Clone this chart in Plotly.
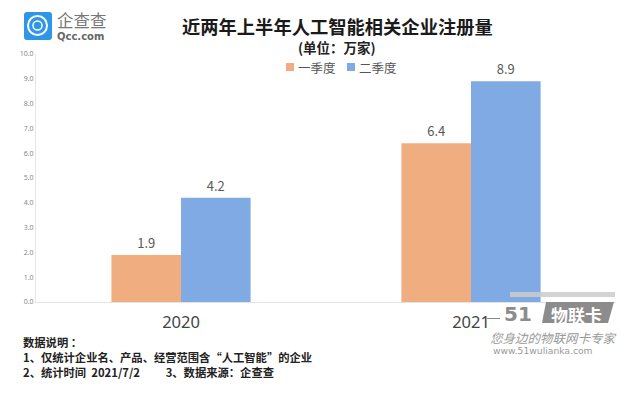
import plotly.graph_objects as go

categories = ["2020", "2021"]
q1_name = "一季度"
q2_name = "二季度"
q1_values = [1.9, 6.4]
q2_values = [4.2, 8.9]
y_ticks = [0, 1, 2, 3, 4, 5, 6, 7, 8, 9, 10]
y_labels = ["%.1f" % t for t in y_ticks]
title_text = "近两年上半年人工智能相关企业注册量"
subtitle_text = "(单位：万家)"
note_lines = ["数据说明 ：", "1、仅统计企业名、产品、经营范围含“人工智能”的企业",
              "2、统计时间\u00a0\u00a02021/7/2\u00a0\u00a0\u00a0\u00a0\u00a0\u00a0\u00a0\u00a0\u00a0\u00a03、数据来源：企查查"]

W, H = 630, 394
CJK = "Noto Sans CJK SC"
L, R, T, B = 36, 616, 54, 302

def px(x):
    return (x - L) / (R - L)
def py(y):
    return (B - y) / (B - T)

fig = go.Figure()
fig.add_bar(x=categories, y=q1_values, name=q1_name, marker_color="#F0AE80", marker_line_width=0,
            text=[str(v) for v in q1_values], textposition="outside", cliponaxis=False,
            textfont=dict(size=13, color="#595959", family=CJK))
fig.add_bar(x=categories, y=q2_values, name=q2_name, marker_color="#7FAAE4", marker_line_width=0,
            text=[str(v) for v in q2_values], textposition="outside", cliponaxis=False,
            textfont=dict(size=13, color="#595959", family=CJK))

ann = []
def t(x, y, s, size, color="#222", anchor="left", weight=None, family=CJK):
    txt = f"<b>{s}</b>" if weight else s
    ann.append(dict(xref="paper", yref="paper", x=px(x), y=py(y), text=txt, showarrow=False,
                    xanchor=anchor, yanchor="middle", font=dict(size=size, color=color, family=family),
                    borderpad=0))

t(337, 26, title_text, 18.3, "#1a1a1a", "center", True)
t(337, 47, subtitle_text, 13.5, "#222", "center", True)
t(297, 68, q1_name, 12.5, "#555")
t(358, 68, q2_name, 12.5, "#555")
t(56, 20, "企查查", 16.5, "#777")
t(56, 36, "Qcc.com", 10, "#666", weight=True, family="DejaVu Sans")
t(22, 342, note_lines[0], 11.3, "#222", weight=True)
t(22, 357, note_lines[1], 11.3, "#222", weight=True)
t(22, 372, note_lines[2], 11.3, "#222", weight=True)
t(576, 314, "物联卡", 17, "#ffffff", "center", True)
t(553, 337, "<i>您身边的物联网卡专家</i>", 12.5, "#999", "center")
t(543, 350, "www.51wulianka.com", 9.2, "#999", "center", family="DejaVu Sans")
t(518, 314, "51", 20, "#8c8c8c", "center", True, family="DejaVu Sans")

def rect(x0, y0, x1, y1, color, layer="above"):
    return dict(type="rect", xref="paper", yref="paper", x0=px(x0), x1=px(x1), y0=py(y0), y1=py(y1),
                fillcolor=color, line_width=0, layer=layer)
def circ(x0, y0, x1, y1, line, width, fill="rgba(0,0,0,0)"):
    return dict(type="circle", xref="paper", yref="paper", x0=px(x0), x1=px(x1), y0=py(y0), y1=py(y1),
                fillcolor=fill, line=dict(color=line, width=width), layer="above")

shapes = [
    dict(type="path", xref="paper", yref="paper",
         path=f"M {px(27)} {py(12)} L {px(49)} {py(12)} Q {px(52)} {py(12)} {px(52)} {py(15)} L {px(52)} {py(37)} Q {px(52)} {py(40)} {px(49)} {py(40)} L {px(27)} {py(40)} Q {px(24)} {py(40)} {px(24)} {py(37)} L {px(24)} {py(15)} Q {px(24)} {py(12)} {px(27)} {py(12)} Z",
         fillcolor="#2E96E6", line_width=0, layer="above"),
    circ(28, 16, 47, 35, "#ffffff", 2),
    circ(33, 21, 42, 30, "#ffffff", 1.5),
    rect(286, 63, 294, 71, "#F0AE80"),
    rect(347, 63, 355, 71, "#7FAAE4"),
    rect(510, 292, 615, 297, "rgba(205,205,205,0.85)"),
    rect(487, 318, 500, 319, "#888888"),
    dict(type="path", xref="paper", yref="paper",
         path=f"M {px(546)} {py(302)} L {px(614)} {py(302)} L {px(608)} {py(323)} L {px(542)} {py(323)} Z",
         fillcolor="#8c8c8c", line_width=0, layer="above"),
]

fig.update_layout(
    width=W, height=H, margin=dict(l=L, r=W - R, t=T, b=H - B), autosize=False,
    paper_bgcolor="#ffffff", plot_bgcolor="#ffffff", barmode="group", bargap=0.52, bargroupgap=0,
    showlegend=False, annotations=ann, shapes=shapes,
    xaxis=dict(tickfont=dict(size=16.5, color="#444", family="Noto Sans"), showgrid=False, showline=True,
               linecolor="#e4e4e4", linewidth=1, ticks="", ticklabelstandoff=5),
    yaxis=dict(range=[0, 10], tickvals=y_ticks, ticktext=y_labels, showgrid=False, showline=True,
               linecolor="#e8e8e8", linewidth=1, ticks="", zeroline=False,
               tickfont=dict(size=7, color="#888", family="Noto Sans")),
)
fig.write_html("out.html", config=dict(displayModeBar=False),
               post_script="document.body.style.margin='0';document.documentElement.style.overflow='hidden';")
